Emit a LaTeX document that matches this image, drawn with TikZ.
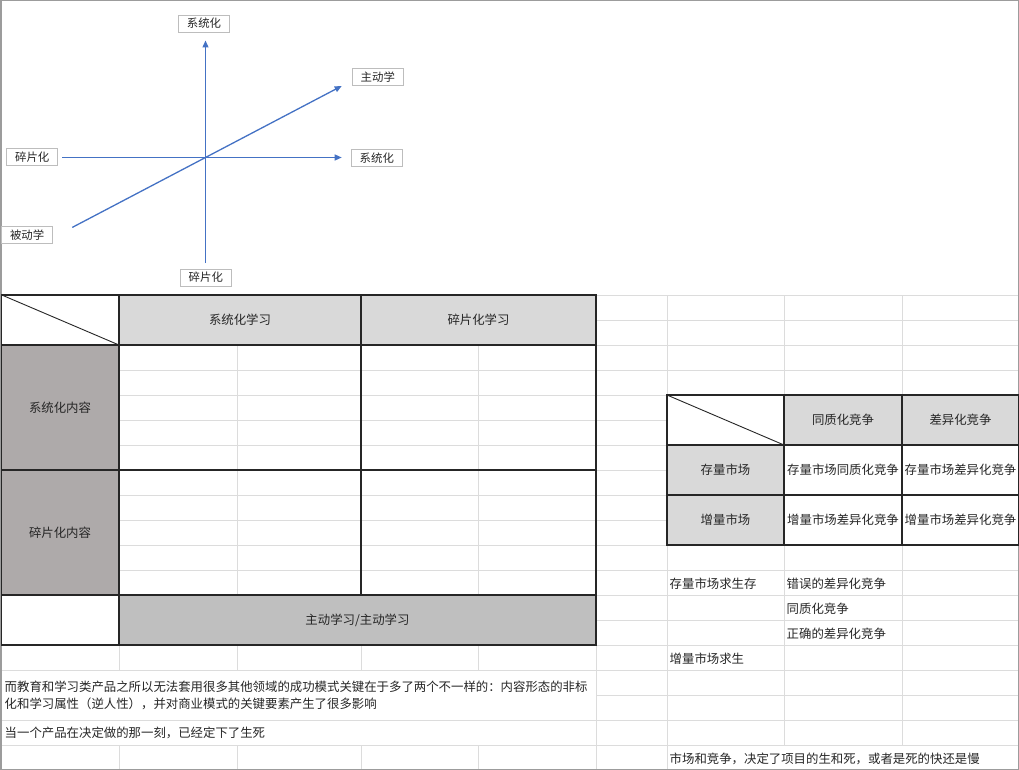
\documentclass[tikz,border=0pt]{standalone}
\usepackage{fontspec}
\setmainfont{Noto Sans CJK SC}
\usetikzlibrary{arrows.meta}

\definecolor{gridgray}{HTML}{DCDCDC}
\definecolor{headgray}{HTML}{D9D9D9}
\definecolor{rowgray}{HTML}{AEAAAA}
\definecolor{footgray}{HTML}{BFBFBF}
\definecolor{axisblue}{HTML}{4472C4}
\definecolor{framegray}{HTML}{9C9C9C}
\definecolor{boxgray}{HTML}{BDBDBD}

\tikzset{
    celltext/.style={font=\fontsize{12.4pt}{16.7pt}\selectfont, inner sep=0pt, text=black!85},
    axislabel/.style={draw=boxgray, fill=white, line width=0.9pt, minimum width=51pt,
        minimum height=17pt, inner sep=0pt, text=black!85, font=\fontsize{11.4pt}{13pt}\selectfont},
    axisline/.style={axisblue, line width=1.3pt, ->},
    tableline/.style={line width=1.2pt, black!85},
}

\begin{document}
\begin{tikzpicture}[x=1pt, y=-1pt, >={Triangle[length=7pt, width=6pt]}]
    \useasboundingbox (0,0) rectangle (1019,770);

    % Spreadsheet grid
    \foreach \y in {295,320,...,770}
        \draw[gridgray, line width=1pt] (0,\y) -- (1019,\y);
    \foreach \x in {119,237,361,478,596,667,784,902}
        \draw[gridgray, line width=1pt] (\x,295) -- (\x,770);
    \draw[framegray, line width=1.5pt] (0.75,0.75) rectangle (1018.25,769.25);

    % Cells without grid (merged or with overflowing text)
    \fill[white] (1.5,670.5) rectangle (595.5,719.5);
    \fill[white] (1.5,720.5) rectangle (595.5,744.5);
    \fill[white] (667.5,745.5) rectangle (1017.5,768.5);

    % Learning matrix (left table)
    \begin{scope}
        \fill[white] (1,295) rectangle (119,345);
        \fill[headgray] (119,295) rectangle (596,345);
        \fill[rowgray] (1,345) rectangle (119,595);
        \fill[white] (1,595) rectangle (119,645);
        \fill[footgray] (119,595) rectangle (596,645);
        \draw[tableline] (1.8,295) rectangle (596,645);
        \foreach \y in {345,470,595}
            \draw[tableline] (1.8,\y) -- (596,\y);
        \draw[tableline] (119,295) -- (119,645);
        \draw[tableline] (361,295) -- (361,595);
        \draw[line width=0.9pt, black!85] (1.8,295) -- (119,345);
        \node[celltext] (colsys) at (240,320) {系统化学习};
        \node[celltext] (colfrag) at (478.5,320) {碎片化学习};
        \node[celltext] (rowsys) at (60,407.5) {系统化内容};
        \node[celltext] (rowfrag) at (60,532.5) {碎片化内容};
        \node[celltext] (active) at (357.5,620) {主动学习/主动学习};
    \end{scope}

    % Market matrix (right table)
    \begin{scope}
        \fill[white] (667,395) rectangle (1018,545);
        \fill[headgray] (784,395) rectangle (1018,445);
        \fill[headgray] (667,445) rectangle (784,545);
        \draw[tableline] (667,395) rectangle (1018.4,545);
        \draw[tableline] (667,445) -- (1018.4,445);
        \draw[tableline] (667,495) -- (1018.4,495);
        \draw[tableline] (784,395) -- (784,545);
        \draw[tableline] (902,395) -- (902,545);
        \draw[line width=0.9pt, black!85] (667,395) -- (784,445);
        \node[celltext] (colsame) at (843,420) {同质化竞争};
        \node[celltext] (coldiff) at (960.5,420) {差异化竞争};
        \node[celltext] (rowstock) at (725.5,470) {存量市场};
        \node[celltext] (rowgrow) at (725.5,520) {增量市场};
        \node[celltext] (stocksame) at (843,470) {存量市场同质化竞争};
        \node[celltext] (stockdiff) at (960.5,470) {存量市场差异化竞争};
        \node[celltext] (growsame) at (843,520) {增量市场差异化竞争};
        \node[celltext] (growdiff) at (960.5,520) {增量市场差异化竞争};
    \end{scope}

    % Loose cell texts
    \node[celltext, anchor=west] (survive) at (669.5,584) {存量市场求生存};
    \node[celltext, anchor=west] (wrongdiff) at (786.5,584) {错误的差异化竞争};
    \node[celltext, anchor=west] (samecomp) at (786.5,609) {同质化竞争};
    \node[celltext, anchor=west] (rightdiff) at (786.5,634) {正确的差异化竞争};
    \node[celltext, anchor=west] (grow) at (669.5,659) {增量市场求生};
    \node[celltext, anchor=north west, align=left] (edu) at (4.5,681)
        {而教育和学习类产品之所以无法套用很多其他领域的成功模式关键在于多了两个不一样的：内容形态的非标\\
         化和学习属性（逆人性），并对商业模式的关键要素产生了很多影响};
    \node[celltext, anchor=west] (decide) at (4.5,733) {当一个产品在决定做的那一刻，已经定下了生死};
    \node[celltext, anchor=west] (market) at (669.5,758.5) {市场和竞争，决定了项目的生和死，或者是死的快还是慢};

    % Axes
    \coordinate (vbot) at (205.5,263);
    \coordinate (vtop) at (205.5,40.5);
    \coordinate (hleft) at (62,157.5);
    \coordinate (hright) at (341.7,157.5);
    \coordinate (dlow) at (72.3,227.4);
    \coordinate (dhigh) at (341.7,86);
    \draw[axisline] (vbot) -- (vtop);
    \draw[axisline] (hleft) -- (hright);
    \draw[axisline] (dlow) -- (dhigh);
    \node[axislabel] (topsys) at (204,23.5) {系统化};
    \node[axislabel] (botfrag) at (205.8,277.5) {碎片化};
    \node[axislabel] (leftfrag) at (32.3,157) {碎片化};
    \node[axislabel] (rightsys) at (376.8,158.3) {系统化};
    \node[axislabel] (activel) at (377.8,77.2) {主动学};
    \node[axislabel] (passive) at (27.2,235) {被动学};
\end{tikzpicture}
\end{document}
